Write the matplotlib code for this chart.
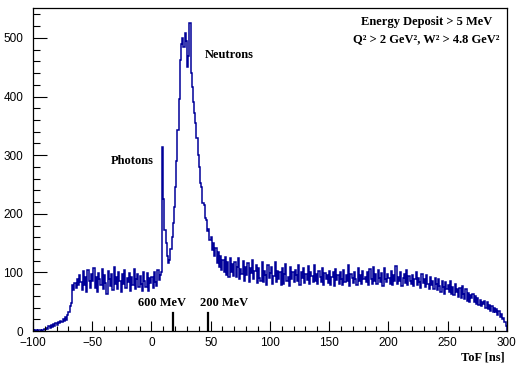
import numpy as np
import matplotlib
matplotlib.use("Agg")
import matplotlib.pyplot as plt
from matplotlib.ticker import MultipleLocator

# ToF histogram, 1 ns bins from -100 to 300 ns
edges = np.arange(-100, 301, 1)
counts = [
    1, 0, 1, 0, 1, 2, 1, 0, 2, 3,
    4, 6, 3, 8, 5, 10, 7, 12, 9, 14,
    11, 16, 13, 18, 15, 20, 17, 24, 19, 27,
    33, 42, 48, 78, 70, 82, 74, 88, 79, 95,
    84, 70, 102, 78, 93, 66, 104, 85, 74, 97,
    86, 108, 74, 93, 66, 99, 88, 78, 106, 71,
    95, 82, 64, 103, 88, 76, 98, 70, 109, 81,
    92, 72, 100, 85, 66, 97, 80, 104, 74, 90,
    83, 99, 68, 93, 78, 106, 71, 89, 97, 75,
    94, 80, 69, 101, 86, 75, 99, 68, 91, 82,
    93, 74, 100, 84, 77, 104, 87, 95, 101, 314,
    225, 172, 150, 128, 116, 122, 140, 160, 184, 212,
    245, 290, 343, 395, 462, 490, 500, 485, 508, 495,
    450, 470, 525, 440, 417, 390, 372, 355, 330, 300,
    280, 252, 246, 218, 215, 192, 190, 170, 174, 155,
    160, 138, 150, 128, 142, 116, 135, 110, 128, 104,
    122, 100, 126, 96, 118, 92, 124, 101, 114, 94,
    118, 92, 110, 124, 88, 106, 97, 120, 86, 109,
    95, 116, 84, 107, 99, 121, 88, 102, 113, 82,
    108, 91, 85, 117, 83, 103, 96, 79, 112, 90,
    99, 110, 81, 94, 118, 84, 103, 89, 100, 78,
    107, 80, 97, 115, 86, 93, 77, 110, 88, 101,
    83, 104, 96, 85, 113, 79, 100, 91, 108, 82,
    97, 87, 111, 80, 101, 94, 84, 112, 86, 98,
    81, 103, 93, 84, 108, 78, 99, 89, 96, 82,
    102, 79, 92, 100, 76, 106, 87, 95, 80, 101,
    88, 78, 104, 84, 95, 86, 112, 77, 97, 90,
    82, 101, 89, 79, 107, 85, 96, 80, 103, 88,
    93, 83, 100, 78, 106, 88, 81, 109, 85, 97,
    80, 104, 90, 84, 99, 77, 108, 89, 83, 98,
    91, 81, 103, 79, 96, 86, 111, 80, 92, 85,
    100, 76, 90, 97, 82, 104, 79, 94, 86, 80,
    96, 76, 88, 101, 79, 91, 83, 74, 98, 82,
    89, 75, 95, 80, 72, 93, 79, 85, 71, 90,
    80, 70, 88, 77, 67, 86, 75, 64, 84, 72,
    78, 66, 86, 64, 75, 61, 81, 66, 72, 58,
    73, 57, 76, 64, 55, 71, 52, 65, 50, 62,
    56, 64, 50, 60, 47, 57, 45, 53, 42, 50,
    46, 52, 40, 49, 38, 45, 35, 42, 33, 39,
    32, 38, 28, 34, 24, 29, 20, 22, 15, 8,
]

# energy markers
marker_tof = [18.1, 47.9]
marker_labels = ["600 MeV", "200 MeV"]
marker_label_x = [8.6, 61]
marker_height = 31

serif = ["Liberation Serif", "DejaVu Serif"]
plt.rcParams['font.family'] = ["Liberation Sans", "DejaVu Sans"]

fig = plt.figure(figsize=(5.23, 3.65), dpi=100)
ax = fig.add_axes([0.063, 0.093, 0.906, 0.885])

ax.stairs(counts, edges, color='#000099', lw=1.1)

for xm in marker_tof:
    ax.plot([xm, xm], [0, marker_height], color='black', lw=1.6)
for lx, lab in zip(marker_label_x, marker_labels):
    ax.text(lx, 48, lab, ha='center', va='center', family=serif,
            fontweight='bold', fontsize=9)

ax.text(-16, 290, "Photons", ha='center', va='center', family=serif,
        fontweight='bold', fontsize=9)
ax.text(66, 471, "Neutrons", ha='center', va='center', family=serif,
        fontweight='bold', fontsize=9)

ax.text(0.83, 0.956, "Energy Deposit > 5 MeV", transform=ax.transAxes,
        ha='center', va='center', family=serif, fontweight='bold', fontsize=9)
ax.text(0.83, 0.905, "Q² > 2 GeV², W² > 4.8 GeV²", transform=ax.transAxes,
        ha='center', va='center', family=serif, fontweight='bold', fontsize=9)

ax.set_xlim(-100, 300)
ax.set_ylim(0, 551)
ax.xaxis.set_major_locator(MultipleLocator(50))
ax.xaxis.set_minor_locator(MultipleLocator(10))
ax.yaxis.set_major_locator(MultipleLocator(100))
ax.yaxis.set_minor_locator(MultipleLocator(20))
ax.tick_params(axis='x', which='major', direction='in', length=7, width=0.8,
               labelsize=8.5, pad=4)
ax.tick_params(axis='x', which='minor', direction='in', length=3.6, width=0.8)
ax.tick_params(axis='y', which='major', direction='in', length=10, width=0.8,
               labelsize=8.5, pad=7)
ax.tick_params(axis='y', which='minor', direction='in', length=5, width=0.8)
for sp in ax.spines.values():
    sp.set_linewidth(0.9)

fig.text(505 / 523, 1 - 358 / 365, "ToF [ns]", ha='right', va='center',
         family=serif, fontweight='bold', fontsize=9)

fig.savefig("out.png", dpi=100)
